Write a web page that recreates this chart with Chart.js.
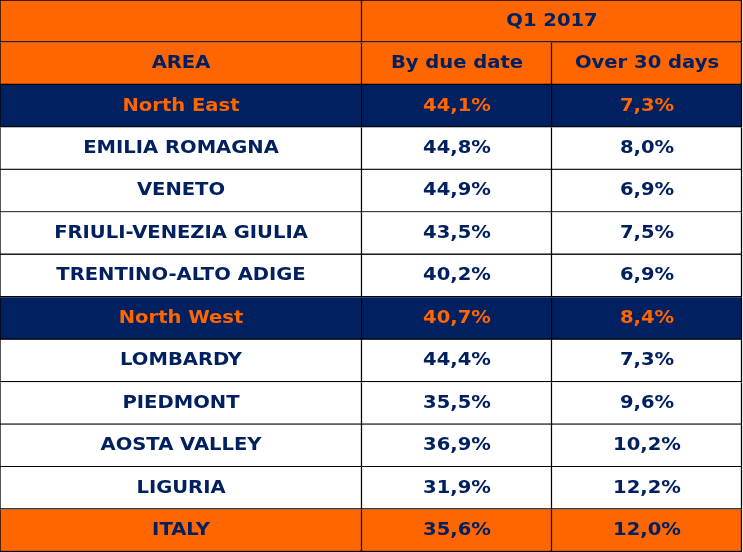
<!DOCTYPE html>
<html>
<head>
<meta charset="utf-8">
<script src="https://cdn.jsdelivr.net/npm/chart.js@4.4.1/dist/chart.umd.min.js"></script>
<style>
  html, body { margin: 0; padding: 0; background: #ffffff; }
  #wrap { width: 743px; height: 552px; }
</style>
</head>
<body>
<div id="wrap"><canvas id="tabella"></canvas></div>
<script>
// dati della tabella
const periodo = 'Q1 2017';
const intestazioni = ['AREA', 'By due date', 'Over 30 days'];
const aree = ['North East', 'EMILIA ROMAGNA', 'VENETO', 'FRIULI-VENEZIA GIULIA', 'TRENTINO-ALTO ADIGE',
              'North West', 'LOMBARDY', 'PIEDMONT', 'AOSTA VALLEY', 'LIGURIA', 'ITALY'];
const byDueDate = [44.1, 44.8, 44.9, 43.5, 40.2, 40.7, 44.4, 35.5, 36.9, 31.9, 35.6];
const over30Days = [7.3, 8.0, 6.9, 7.5, 6.9, 8.4, 7.3, 9.6, 10.2, 12.2, 12.0];
const macroAree = ['North East', 'North West'];
const totale = 'ITALY';

const ARANCIO = '#ff6600';
const BLU = '#002060';

// bordi colonne (in unità dell'asse x)
const colonne = [0, 362, 552, 742];

const righe = ['periodo', 'intestazioni'].concat(aree);

function formatta(v) {
    return v.toFixed(1).replace('.', ',') + '%';
}

function sfondo(i) {
    if (i < 2) return ARANCIO;
    const a = aree[i - 2];
    if (a === totale) return ARANCIO;
    if (macroAree.includes(a)) return BLU;
    return '#ffffff';
}

function coloreTesto(i) {
    if (i >= 2 && macroAree.includes(aree[i - 2])) return ARANCIO;
    return BLU;
}

function testoCella(riga, col) {
    if (riga === 0) return col === 1 ? periodo : '';
    if (riga === 1) return intestazioni[col];
    const k = riga - 2;
    if (col === 0) return aree[k];
    if (col === 1) return formatta(byDueDate[k]);
    return formatta(over30Days[k]);
}

const datasets = [0, 1, 2].map(c => ({
    label: 'col' + c,
    data: righe.map((r, i) => {
        if (i === 0 && c === 1) return [colonne[1], colonne[3]];
        if (i === 0 && c === 2) return null;
        return [colonne[c], colonne[c + 1]];
    }),
    backgroundColor: ctx => sfondo(ctx.dataIndex),
    borderColor: '#000000',
    borderWidth: ctx => ({
        top: ctx.dataIndex === 0 ? 1 : 0,
        left: ctx.datasetIndex === 0 ? 1 : 0,
        right: 1.5,
        bottom: 1.5
    }),
    borderSkipped: false,
    grouped: false,
    barPercentage: 1,
    categoryPercentage: 1
}));

const testiPlugin = {
    id: 'testi',
    afterDatasetsDraw(chart) {
        const ctx = chart.ctx;
        ctx.save();
        ctx.font = 'bold 17px "DejaVu Sans", Verdana, sans-serif';
        ctx.textAlign = 'center';
        ctx.textBaseline = 'middle';
        chart.data.datasets.forEach((ds, c) => {
            const meta = chart.getDatasetMeta(c);
            meta.data.forEach((bar, i) => {
                if (ds.data[i] == null) return;
                const t = testoCella(i, c);
                if (!t) return;
                const cx = (bar.x + bar.base) / 2;
                ctx.save();
                ctx.translate(cx, bar.y);
                ctx.scale(1.15, 1);
                ctx.fillStyle = coloreTesto(i);
                ctx.fillText(t, 0, 0);
                ctx.restore();
            });
        });
        ctx.restore();
    }
};

new Chart(document.getElementById('tabella'), {
    type: 'bar',
    data: { labels: righe, datasets: datasets },
    options: {
        indexAxis: 'y',
        responsive: true,
        maintainAspectRatio: false,
        animation: false,
        layout: { padding: 0 },
        scales: {
            x: { type: 'linear', min: 0, max: 743, display: false },
            y: { type: 'category', display: false }
        },
        plugins: {
            legend: { display: false },
            tooltip: { enabled: false }
        }
    },
    plugins: [testiPlugin]
});
</script>
</body>
</html>
